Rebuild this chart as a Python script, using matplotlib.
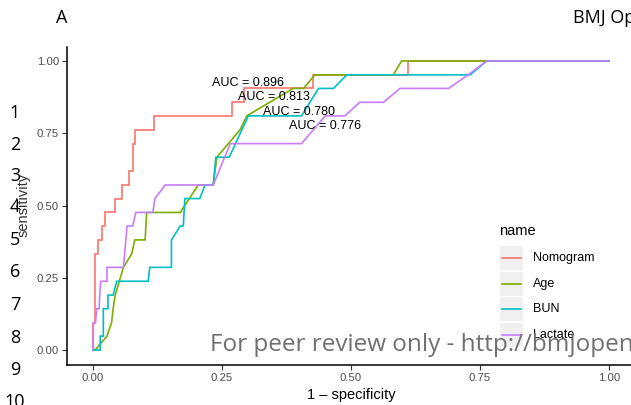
import matplotlib
matplotlib.use("Agg")
import matplotlib.pyplot as plt
from matplotlib.patches import Rectangle
from matplotlib.lines import Line2D

# ROC curves: (1 - specificity, sensitivity)
nomogram_x = [0, 0, 0.003, 0.003, 0.009, 0.009, 0.017, 0.017, 0.023, 0.023, 0.043, 0.043,
              0.057, 0.057, 0.070, 0.070, 0.078, 0.078, 0.081, 0.081, 0.118, 0.118, 0.270,
              0.270, 0.293, 0.293, 0.427, 0.427, 0.611, 0.611, 1.0]
nomogram_y = [0, 0.095, 0.095, 0.333, 0.333, 0.381, 0.381, 0.429, 0.429, 0.476, 0.476, 0.524,
              0.524, 0.571, 0.571, 0.619, 0.619, 0.714, 0.714, 0.762, 0.762, 0.810, 0.810,
              0.857, 0.857, 0.905, 0.905, 0.952, 0.952, 1.0, 1.0]

age_x = [0, 0.004, 0.027, 0.036, 0.039, 0.043, 0.059, 0.075, 0.081, 0.101, 0.104, 0.169,
         0.204, 0.233, 0.240, 0.285, 0.298, 0.388, 0.408, 0.430, 0.582, 0.598, 1.0]
age_y = [0, 0, 0.048, 0.095, 0.143, 0.190, 0.286, 0.333, 0.381, 0.381, 0.476, 0.476,
         0.571, 0.571, 0.667, 0.762, 0.810, 0.905, 0.905, 0.952, 0.952, 1.0, 1.0]

bun_x = [0, 0.014, 0.014, 0.020, 0.020, 0.029, 0.029, 0.039, 0.046, 0.107, 0.110, 0.152,
         0.152, 0.169, 0.175, 0.178, 0.207, 0.217, 0.233, 0.238, 0.264, 0.301, 0.404,
         0.437, 0.466, 0.492, 0.731, 0.763, 1.0]
bun_y = [0, 0, 0.048, 0.048, 0.143, 0.143, 0.190, 0.190, 0.238, 0.238, 0.286, 0.286,
         0.381, 0.429, 0.429, 0.524, 0.524, 0.571, 0.571, 0.667, 0.667, 0.810, 0.810,
         0.905, 0.905, 0.952, 0.952, 1.0, 1.0]

lactate_x = [0, 0.001, 0.005, 0.007, 0.012, 0.013, 0.015, 0.027, 0.027, 0.059, 0.066, 0.077,
             0.083, 0.116, 0.120, 0.140, 0.233, 0.266, 0.404, 0.450, 0.488, 0.517, 0.563,
             0.595, 0.689, 0.727, 0.763, 1.0]
lactate_y = [0, 0.095, 0.095, 0.143, 0.143, 0.190, 0.238, 0.238, 0.286, 0.286, 0.429, 0.429,
             0.476, 0.476, 0.524, 0.571, 0.571, 0.714, 0.714, 0.810, 0.810, 0.857, 0.857,
             0.905, 0.905, 0.952, 1.0, 1.0]

names = ["Nomogram", "Age", "BUN", "Lactate"]
colors = ["#F8766D", "#7CAE00", "#00BFC4", "#C77CFF"]
auc_labels = ["AUC = 0.896", "AUC = 0.813", "AUC = 0.780", "AUC = 0.776"]
auc_pos = [(0.30, 0.925), (0.35, 0.875), (0.40, 0.825), (0.45, 0.775)]

W, H = 631, 405


def px(x, y):
    """pixel position -> figure fraction"""
    return x / W, 1 - y / H


fig = plt.figure(figsize=(W / 100, H / 100), dpi=100)
ax = fig.add_axes([67.2 / W, 1 - 364.5 / H, 567.6 / W, 318 / H])

curves = [(nomogram_x, nomogram_y), (age_x, age_y), (bun_x, bun_y), (lactate_x, lactate_y)]
for (xs, ys), col in zip(curves, colors):
    ax.plot(xs, ys, color=col, lw=1.2, solid_joinstyle="miter")

for lab, (tx, ty) in zip(auc_labels, auc_pos):
    ax.text(tx, ty, lab, ha="center", va="center", fontsize=9,
            family="Liberation Sans", color="black")

ax.set_xlim(-0.05, 1.05)
ax.set_ylim(-0.05, 1.05)
ticks = [0, 0.25, 0.5, 0.75, 1.0]
ax.set_xticks(ticks)
ax.set_yticks(ticks)
ax.set_xticklabels(["%.2f" % t for t in ticks], fontsize=8.2, family="Liberation Sans", color="#4D4D4D")
ax.set_yticklabels(["%.2f" % t for t in ticks], fontsize=8.2, family="Liberation Sans", color="#4D4D4D")
ax.tick_params(length=3.5, width=0.8, color="#333333", pad=2.5)
for s in ["top", "right"]:
    ax.spines[s].set_visible(False)
for s in ["left", "bottom"]:
    ax.spines[s].set_linewidth(1.1)
ax.set_xlabel("1 \u2013 specificity", fontsize=10.5, family="Liberation Sans", labelpad=4)
fig.text(*px(24, 205), "sensitivity", rotation=90, ha="center", va="center",
         fontsize=10.5, family="Liberation Sans", color="#333333")

# legend (drawn by hand, ggplot style keys)
fig.text(*px(499, 231), "name", ha="left", va="center", fontsize=10.5, family="Liberation Sans")
for i, (nm, col) in enumerate(zip(names, colors)):
    cy = 258 + i * 25.7
    x0, y0 = px(500, cy + 12)
    fig.patches.append(Rectangle((x0, y0), 23 / W, 24 / H, transform=fig.transFigure,
                                 facecolor="#F0F0F0", edgecolor="none"))
    fig.lines.append(Line2D([502 / W, 521 / W], [1 - cy / H] * 2, transform=fig.transFigure,
                            color=col, lw=1.2))
    fig.text(*px(533, cy), nm, ha="left", va="center", fontsize=9, family="Liberation Sans")

# page furniture from the manuscript scan
fig.text(*px(62, 18), "A", ha="center", va="center", fontsize=13, family="Open Sans")
fig.text(*px(573, 18), "BMJ Open", ha="left", va="center", fontsize=13, family="Open Sans")
line_y = [113, 145, 176, 207, 240, 272, 305, 338, 370, 402]
for n, yy in enumerate(line_y, start=1):
    fig.text(*px(15, yy), str(n), ha="center", va="center", fontsize=13, family="Open Sans")
fig.text(*px(210, 345), "For peer review only - http://bmjopen.bmj.com/site/about/guidelines.xhtml",
         ha="left", va="center", fontsize=17.5, family="Open Sans", color="#707070")

fig.savefig("out.png", dpi=100)
